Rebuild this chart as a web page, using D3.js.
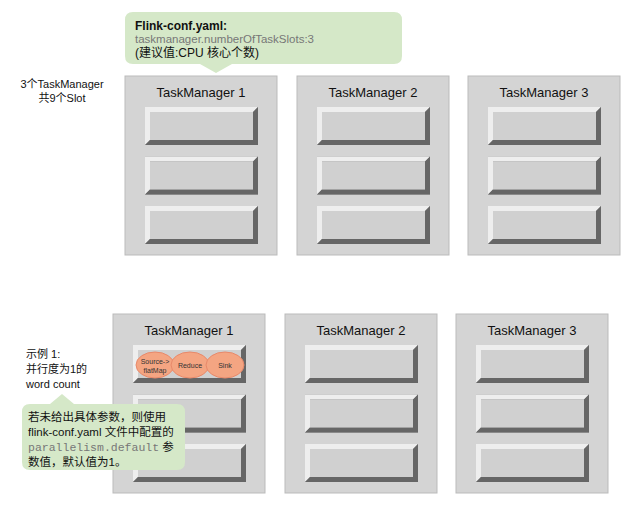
<!DOCTYPE html><html><head><meta charset="utf-8"><script src="https://cdn.jsdelivr.net/npm/d3@7"></script>
<style>body{margin:0;background:#fff}text{font-family:Arial,"Liberation Sans","Noto Sans CJK SC",sans-serif}</style></head><body>
<script>
const tmNames=["TaskManager 1","TaskManager 2","TaskManager 3"];
const slotsPerTM=[0,1,2];
const topRowX=[125,297,468], bottomRowX=[113,285,456];
const operators=["Source->\nflatMap","Reduce","Sink"];
const svg=d3.select("body").append("svg").attr("width",644).attr("height",505);
const opX=d3.scalePoint().domain(operators).range([155,225]);
function row(xs,y0){
  xs.forEach((x,i)=>{
    const g=svg.append("g").attr("transform",`translate(${x},${y0})`);
    g.append("rect").attr("width",152).attr("height",179).attr("fill","#d4d4d4").attr("stroke","#bbb");
    g.append("text").attr("x",76).attr("y",21).attr("text-anchor","middle").attr("font-size",13).attr("fill","#111").text(tmNames[i]);
    slotsPerTM.forEach(s=>{
      const sy=31+s*49.5, sx=20, w=113, h=38, b=5;
      g.append("rect").attr("x",sx).attr("y",sy).attr("width",w).attr("height",h).attr("fill","#888");
      g.append("polygon").attr("points",`${sx},${sy} ${sx+w},${sy} ${sx+w-b},${sy+b} ${sx+b},${sy+b} ${sx+b},${sy+h-b} ${sx},${sy+h}`).attr("fill","#eee");
      g.append("polygon").attr("points",`${sx+w},${sy} ${sx+w},${sy+h} ${sx},${sy+h} ${sx+b},${sy+h-b} ${sx+w-b},${sy+h-b} ${sx+w-b},${sy+b}`).attr("fill","#666");
      g.append("rect").attr("x",sx+b).attr("y",sy+b).attr("width",w-2*b).attr("height",h-2*b).attr("fill","#d0d0d0");
    });
  });
}
row(topRowX,76);row(bottomRowX,314);
// operators
operators.forEach(o=>{
  const cx=opX(o);
  svg.append("ellipse").attr("cx",cx).attr("cy",365).attr("rx",19).attr("ry",13).attr("fill","#f4a582").attr("stroke","#e8896a");
  const lines=o.split("\n");
  lines.forEach((l,j)=>svg.append("text").attr("x",cx).attr("y",365+3+(j-(lines.length-1)/2)*9).attr("text-anchor","middle").attr("font-size",7).attr("fill","#333").text(l));
});
// callouts
svg.append("path").attr("d","M133,12 H394 Q402,12 402,20 V56 Q402,64 394,64 H232 L216,73 L200,64 H133 Q125,64 125,56 V20 Q125,12 133,12Z").attr("fill","#d5e8c8");
svg.append("text").attr("x",135).attr("y",30).attr("font-size",12).attr("font-weight","bold").attr("fill","#111").text("Flink-conf.yaml:");
svg.append("text").attr("x",135).attr("y",43).attr("font-size",11.5).attr("font-family","Liberation Mono, monospace").attr("fill","#777").text("taskmanager.numberOfTaskSlots:3");
svg.append("text").attr("x",135).attr("y",57).attr("font-size",12).attr("fill","#111").text("(建议值:CPU 核心个数)");
svg.append("path").attr("d","M30,404 H50 L62,394 L74,404 H177 Q185,404 185,412 V462 Q185,470 177,470 H30 Q22,470 22,462 V412 Q22,404 30,404Z").attr("fill","#d5e8c8");
const bl=[["若未给出具体参数，则使用",0],["flink-conf.yaml 文件中配置的",0],["parallelism.default",1],["数值，默认值为1。",0]];
bl.forEach((d,i)=>{
  const t=svg.append("text").attr("x",28).attr("y",421+i*15).attr("font-size",11.5).attr("fill","#111");
  if(d[1]){t.append("tspan").attr("font-family","Liberation Mono, monospace").attr("fill","#777").text(d[0]);t.append("tspan").attr("fill","#111").text(" 参");}
  else t.text(d[0]);
});
[["3个TaskManager",88],["共9个Slot",102]].forEach(d=>svg.append("text").attr("x",62).attr("y",d[1]).attr("text-anchor","middle").attr("font-size",11).attr("fill","#111").text(d[0]));
[["示例 1:",358],["并行度为1的",373],["word count",388]].forEach(d=>svg.append("text").attr("x",26).attr("y",d[1]).attr("font-size",11).attr("fill","#111").text(d[0]));
</script></body></html>
